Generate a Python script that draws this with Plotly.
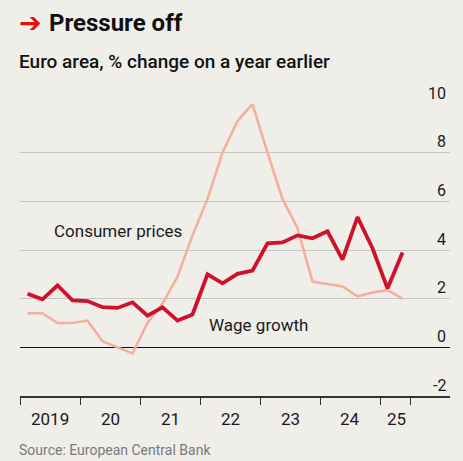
import plotly.graph_objects as go

# Quarterly observations, 2019 Q1 to 2025 Q2
years = [2019, 2019, 2019, 2019, 2020, 2020, 2020, 2020, 2021, 2021, 2021, 2021,
         2022, 2022, 2022, 2022, 2023, 2023, 2023, 2023, 2024, 2024, 2024, 2024,
         2025, 2025]
quarters = [1, 2, 3, 4] * 6 + [1, 2]

consumer_prices = [1.4, 1.4, 1.0, 1.0, 1.1, 0.25, 0.0, -0.25, 1.0, 1.8, 2.9, 4.6,
                   6.1, 8.0, 9.3, 10.0, 8.0, 6.1, 4.9, 2.7, 2.6, 2.5, 2.1, 2.25,
                   2.35, 2.0]
wage_growth = [2.2, 1.97, 2.55, 1.93, 1.9, 1.65, 1.62, 1.85, 1.3, 1.64, 1.1, 1.35,
               3.0, 2.63, 3.02, 3.15, 4.27, 4.31, 4.6, 4.48, 4.77, 3.6, 5.35, 4.07,
               2.42, 3.9]

y_ticks = [-2, 0, 2, 4, 6, 8, 10]
x_tick_years = [2019, 2020, 2021, 2022, 2023, 2024, 2025, 2025.5]
x_label_pos = [2019.5, 2020.5, 2021.5, 2022.5, 2023.5, 2024.5, 2025.28]
x_label_text = ["2019", "20", "21", "22", "23", "24", "25"]

# decimal time at the middle of each quarter
t = [y + (q - 0.5) / 4 for y, q in zip(years, quarters)]

BG = "#efeee9"
RED = "#d0112b"
PINK = "#f2b19c"
FONT = "Roboto, Arial, sans-serif"

fig = go.Figure()

fig.add_trace(go.Scatter(x=t, y=consumer_prices, mode="lines",
                         line=dict(color=PINK, width=2.6), hoverinfo="skip"))
fig.add_trace(go.Scatter(x=t, y=wage_growth, mode="lines",
                         line=dict(color=RED, width=3.8), hoverinfo="skip"))

fig.update_layout(
    width=463, height=461,
    margin=dict(l=20, r=13, t=104, b=65),
    paper_bgcolor=BG, plot_bgcolor=BG,
    showlegend=False,
    font=dict(family=FONT, color="#1a1a1a"),
    xaxis=dict(
        range=[2019, 2026.1667], showgrid=False, zeroline=False,
        tickvals=x_tick_years, ticktext=[""] * len(x_tick_years),
        ticks="outside", ticklen=7, tickwidth=1.3, tickcolor="#333333",
        showline=True, linecolor="#333333", linewidth=1.5,
        fixedrange=True,
    ),
    yaxis=dict(
        range=[-2, 10], tickvals=y_ticks, showticklabels=False,
        showgrid=True, gridcolor="#c6c6c2", gridwidth=1,
        zeroline=True, zerolinecolor="#111111", zerolinewidth=1.4,
        showline=False, fixedrange=True,
    ),
)

annotations = []
# value labels sitting above the right end of each gridline
for v in y_ticks:
    annotations.append(dict(x=0.995, xref="paper", xanchor="right", y=v, yref="y",
                            yanchor="middle", yshift=11, showarrow=False,
                            text=str(v), font=dict(size=16, color="#1a1a1a")))
# year labels centred between ticks
for xp, txt in zip(x_label_pos, x_label_text):
    annotations.append(dict(x=xp, xref="x", xanchor="center", y=-0.079, yref="paper",
                            yanchor="middle", showarrow=False, text=txt,
                            font=dict(size=17, color="#1a1a1a")))
# series labels
annotations.append(dict(x=2019.53, xref="x", xanchor="left", y=4.8, yref="y",
                        yanchor="middle", showarrow=False, text="Consumer prices",
                        font=dict(size=17, color="#1a1a1a")))
annotations.append(dict(x=2022.12, xref="x", xanchor="left", y=0.9, yref="y",
                        yanchor="middle", showarrow=False, text="Wage growth",
                        font=dict(size=17, color="#1a1a1a")))
# title arrow and title
annotations.append(dict(x=-0.008, xref="paper", xanchor="left", y=1.280, yref="paper",
                        yanchor="middle", showarrow=False, text="➔",
                        font=dict(size=27, color="#e3120b", family="DejaVu Sans")))
annotations.append(dict(x=0.063, xref="paper", xanchor="left", y=1.277, yref="paper",
                        yanchor="middle", showarrow=False, text="<b>Pressure off</b>",
                        font=dict(size=24, color="#111111")))
# subtitle and source
annotations.append(dict(x=-0.006, xref="paper", xanchor="left", y=1.144, yref="paper",
                        yanchor="middle", showarrow=False,
                        text="Euro area, % change on a year earlier",
                        font=dict(size=19, color="#111111", weight=500)))
annotations.append(dict(x=-0.006, xref="paper", xanchor="left", y=-0.185, yref="paper",
                        yanchor="middle", showarrow=False,
                        text="Source: European Central Bank",
                        font=dict(size=14, color="#7a7a7a")))

fig.update_layout(annotations=annotations)

fig.write_html("out.html", config={"displayModeBar": False})
